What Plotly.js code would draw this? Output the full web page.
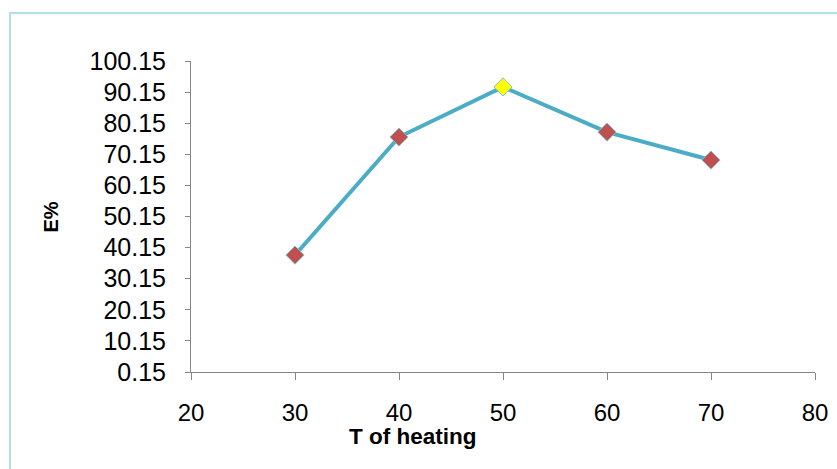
<!DOCTYPE html>
<html>
<head>
<meta charset="utf-8">
<script src="https://cdn.plot.ly/plotly-3.0.1.min.js"></script>
<style>
  html, body { margin: 0; padding: 0; background: #fff; }
  #wrap { position: relative; width: 837px; height: 469px; overflow: hidden; }
  #frame { position: absolute; left: 9px; top: 12px; width: 900px; height: 600px; border-top: 2px solid #b4dde8; border-left: 2px solid #b4dde8; pointer-events: none; }
  #chart { position: absolute; left: 0; top: 0; width: 837px; height: 469px; }
</style>
</head>
<body>
<div id="wrap">
  <div id="chart"></div>
  <div id="frame"></div>
</div>
<script>
const temperatures = [30, 40, 50, 60, 70];
const extraction = [37.75, 75.7, 91.8, 77.3, 68.3];
const markerColors = ['#c0504d', '#c0504d', '#ffff00', '#c0504d', '#c0504d'];
const yTicks = [0.15, 10.15, 20.15, 30.15, 40.15, 50.15, 60.15, 70.15, 80.15, 90.15, 100.15];
const xTicks = [20, 30, 40, 50, 60, 70, 80];

const trace = {
  x: temperatures,
  y: extraction,
  type: 'scatter',
  mode: 'lines+markers',
  line: { color: '#4bacc6', width: 4 },
  marker: { symbol: 'diamond', size: 14, color: markerColors, line: { color: '#7fbfd6', width: 1 } },
  hoverinfo: 'x+y'
};

const layout = {
  width: 837, height: 469,
  margin: { l: 191, r: 22, t: 61, b: 97 },
  paper_bgcolor: 'rgba(0,0,0,0)',
  plot_bgcolor: '#ffffff',
  showlegend: false,
  font: { family: 'Liberation Sans, Arial, sans-serif', color: '#000' },
  xaxis: {
    range: [20, 80],
    tickvals: xTicks,
    ticktext: xTicks.map(String),
    showgrid: false, zeroline: false,
    showline: true, linecolor: '#868686', linewidth: 1,
    ticks: 'outside', ticklen: 7, tickcolor: '#868686',
    tickfont: { size: 24, color: '#000' },
    ticklabelstandoff: 12
  },
  yaxis: {
    range: [0.15, 100.15],
    tickvals: yTicks,
    ticktext: yTicks.map(v => v.toFixed(2)),
    showgrid: false, zeroline: false,
    showline: true, linecolor: '#868686', linewidth: 1,
    ticks: 'outside', ticklen: 5, tickcolor: '#868686',
    tickfont: { size: 25, color: '#000' },
    ticklabelstandoff: 14
  },
  annotations: [{
    text: '<b>T of heating</b>',
    xref: 'paper', yref: 'paper',
    x: 0.356, y: -0.209,
    xanchor: 'center', yanchor: 'middle',
    showarrow: false,
    font: { size: 22.5, color: '#000' }
  }, {
    text: '<b>E%</b>',
    xref: 'paper', yref: 'paper',
    x: -0.2244, y: 0.5,
    xanchor: 'center', yanchor: 'middle',
    textangle: -90,
    showarrow: false,
    font: { size: 20, color: '#000' }
  }]
};

Plotly.newPlot('chart', [trace], layout, { displayModeBar: false });
</script>
</body>
</html>
